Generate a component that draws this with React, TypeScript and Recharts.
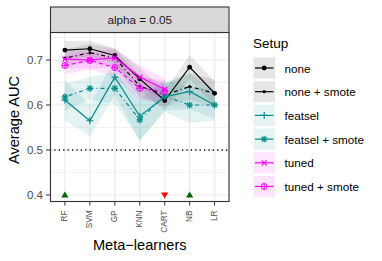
import React from 'react';
import { ComposedChart, Line, Area, Scatter, XAxis, YAxis, CartesianGrid, ReferenceLine } from 'recharts';

// meta-learners on the x axis
const categories = ['RF', 'SVM', 'GP', 'KNN', 'CART', 'NB', 'LR'];

// mean AUC per setup
const none = [0.722, 0.725, 0.71, 0.658, 0.61, 0.684, 0.626];
const noneSmote = [0.704, 0.716, 0.705, 0.642, 0.622, 0.641, 0.626];
const featsel = [0.611, 0.565, 0.662, 0.575, 0.618, 0.63, 0.6];
const featselSmote = [0.618, 0.637, 0.637, 0.567, 0.62, 0.6, 0.6];
const tuned = [0.702, 0.7, 0.705, 0.662, 0.635, null, null];
const tunedSmote = [0.688, 0.699, 0.683, 0.637, 0.63, null, null];

// half-widths of the shaded bands
const noneErr = [0.02, 0.018, 0.016, 0.025, 0.022, 0.027, 0.027];
const noneSmoteErr = [0.02, 0.02, 0.02, 0.025, 0.025, 0.03, 0.03];
const featselErr = [0.045, 0.035, 0.04, 0.055, 0.03, 0.04, 0.03];
const featselSmoteErr = [0.03, 0.025, 0.035, 0.045, 0.035, 0.04, 0.035];
const tunedErr = [0.02, 0.02, 0.02, 0.025, 0.025, null, null];
const tunedSmoteErr = [0.02, 0.02, 0.02, 0.025, 0.025, null, null];

// significance markers drawn at the bottom
const sigUp = ['RF', 'NB'];
const sigDown = ['CART'];
const sigLevel = 0.4;

const yTicks = [0.4, 0.5, 0.6, 0.7];
const yMinor = [0.45, 0.55, 0.65, 0.75];

const BLACK = '#000000';
const TEAL = '#008B8B';
const MAGENTA = '#FF00FF';
const FONT = '"Liberation Sans", Arial, Helvetica, sans-serif';

const band = (m: (number | null)[], e: (number | null)[], i: number) =>
  m[i] == null || e[i] == null ? null : [(m[i] as number) - (e[i] as number), (m[i] as number) + (e[i] as number)];

const data = categories.map((cat, i) => ({
  cat,
  none: none[i],
  noneSmote: noneSmote[i],
  featsel: featsel[i],
  featselSmote: featselSmote[i],
  tuned: tuned[i],
  tunedSmote: tunedSmote[i],
  noneBand: band(none, noneErr, i),
  noneSmoteBand: band(noneSmote, noneSmoteErr, i),
  featselBand: band(featsel, featselErr, i),
  featselSmoteBand: band(featselSmote, featselSmoteErr, i),
  tunedBand: band(tuned, tunedErr, i),
  tunedSmoteBand: band(tunedSmote, tunedSmoteErr, i),
  up: sigUp.includes(cat) ? sigLevel : null,
  down: sigDown.includes(cat) ? sigLevel : null,
}));

type Shape = 'circle' | 'dot' | 'plus' | 'star' | 'cross' | 'circleplus';

const Marker = ({ cx, cy, shape, color }: { cx: number; cy: number; shape: Shape; color: string }) => {
  const sw = 1.2;
  if (shape === 'circle') return <circle cx={cx} cy={cy} r={2.4} fill={color} />;
  if (shape === 'dot') return <circle cx={cx} cy={cy} r={1.6} fill={color} />;
  if (shape === 'plus')
    return (
      <g stroke={color} strokeWidth={sw}>
        <line x1={cx - 3.4} y1={cy} x2={cx + 3.4} y2={cy} />
        <line x1={cx} y1={cy - 3.4} x2={cx} y2={cy + 3.4} />
      </g>
    );
  if (shape === 'cross')
    return (
      <g stroke={color} strokeWidth={sw}>
        <line x1={cx - 2.5} y1={cy - 2.5} x2={cx + 2.5} y2={cy + 2.5} />
        <line x1={cx - 2.5} y1={cy + 2.5} x2={cx + 2.5} y2={cy - 2.5} />
      </g>
    );
  if (shape === 'star')
    return (
      <g stroke={color} strokeWidth={sw}>
        <line x1={cx - 3.3} y1={cy} x2={cx + 3.3} y2={cy} />
        <line x1={cx} y1={cy - 3.3} x2={cx} y2={cy + 3.3} />
        <line x1={cx - 2.4} y1={cy - 2.4} x2={cx + 2.4} y2={cy + 2.4} />
        <line x1={cx - 2.4} y1={cy + 2.4} x2={cx + 2.4} y2={cy - 2.4} />
      </g>
    );
  return (
    <g stroke={color} strokeWidth={1} fill="none">
      <circle cx={cx} cy={cy} r={3} />
      <line x1={cx - 3} y1={cy} x2={cx + 3} y2={cy} />
      <line x1={cx} y1={cy - 3} x2={cx} y2={cy + 3} />
    </g>
  );
};

const dotFor = (shape: Shape, color: string) => (p: any) => {
  if (p.cy == null || p.value == null || isNaN(p.cy)) return <g key={p.index} />;
  return <Marker key={p.index} cx={p.cx} cy={p.cy} shape={shape} color={color} />;
};

const Triangle = (color: string, upward: boolean) => (p: any) => {
  if (p.cy == null || isNaN(p.cy) || p.payload?.[upward ? 'up' : 'down'] == null) return <g />;
  const { cx, cy } = p;
  const pts = upward
    ? `${cx - 3.6},${cy + 2.6} ${cx + 3.6},${cy + 2.6} ${cx},${cy - 3.4}`
    : `${cx - 3.6},${cy - 2.6} ${cx + 3.6},${cy - 2.6} ${cx},${cy + 3.4}`;
  return <polygon points={pts} fill={color} />;
};

const XTick = (p: any) => (
  <text
    x={p.x}
    y={p.y}
    transform={`rotate(-90 ${p.x} ${p.y})`}
    textAnchor="end"
    dominantBaseline="central"
    fontSize={8.2}
    fill="#4d4d4d"
    fontFamily={FONT}
  >
    {p.payload.value}
  </text>
);

const series = [
  { key: 'none', label: 'none', color: BLACK, shape: 'circle' as Shape, dash: undefined, bandFill: '#e6e6e6' },
  { key: 'noneSmote', label: 'none + smote', color: BLACK, shape: 'dot' as Shape, dash: '1 3 4 3', bandFill: '#e6e6e6' },
  { key: 'featsel', label: 'featsel', color: TEAL, shape: 'plus' as Shape, dash: undefined, bandFill: '#e6f3f3' },
  { key: 'featselSmote', label: 'featsel + smote', color: TEAL, shape: 'star' as Shape, dash: '1 3 4 3', bandFill: '#e6f3f3' },
  { key: 'tuned', label: 'tuned', color: MAGENTA, shape: 'cross' as Shape, dash: undefined, bandFill: '#ffe4ff' },
  { key: 'tunedSmote', label: 'tuned + smote', color: MAGENTA, shape: 'circleplus' as Shape, dash: '4 3', bandFill: '#ffe4ff' },
];

const PLOT_L = 50;
const PLOT_R = 229.5;
const PLOT_T = 32;
const PLOT_B = 202;

export default function App() {
  return (
    <div style={{ position: 'relative', width: 382, height: 261, background: '#fff', fontFamily: FONT }}>
      <style>{`body{margin:0}`}</style>
      <ComposedChart
        width={382}
        height={261}
        data={data}
        margin={{ top: PLOT_T, right: 382 - PLOT_R, bottom: 0, left: 0 }}
      >
        <CartesianGrid horizontalValues={yMinor} vertical={false} stroke="#ebebeb" strokeWidth={0.6} />
        <CartesianGrid horizontalValues={yTicks} stroke="#ebebeb" strokeWidth={1.2} />
        <XAxis
          dataKey="cat"
          type="category"
          scale="point"
          padding={{ left: 14.9, right: 14.9 }}
          interval={0}
          height={261 - PLOT_B}
          axisLine={false}
          tickLine={{ stroke: '#333333' }}
          tickSize={3.5}
          tickMargin={5}
          tick={<XTick />}
        />
        <YAxis
          type="number"
          domain={[0.3844, 0.7622]}
          allowDataOverflow
          ticks={yTicks}
          tickFormatter={(v: number) => v.toFixed(1)}
          width={PLOT_L}
          axisLine={false}
          tickLine={{ stroke: '#333333' }}
          tickSize={4}
          tickMargin={3}
          tick={{ fill: '#4d4d4d', fontSize: 11.5, fontFamily: FONT }}
        />
        {series.map((s) => (
          <Area
            key={s.key + '-band'}
            type="linear"
            dataKey={s.key + 'Band'}
            stroke="none"
            fill={s.color}
            fillOpacity={s.color === BLACK ? 0.09 : 0.11}
            isAnimationActive={false}
            connectNulls={false}
            activeDot={false}
          />
        ))}
        <ReferenceLine y={0.5} stroke="#000" strokeWidth={1.3} strokeDasharray="1.2 3.2" />
        {series.map((s) => (
          <Line
            key={s.key}
            type="linear"
            dataKey={s.key}
            stroke={s.color}
            strokeWidth={1.2}
            strokeDasharray={s.dash}
            dot={dotFor(s.shape, s.color)}
            activeDot={false}
            connectNulls={false}
            isAnimationActive={false}
          />
        ))}
        <Scatter dataKey="up" shape={Triangle('#006400', true)} isAnimationActive={false} />
        <Scatter dataKey="down" shape={Triangle('#FF0000', false)} isAnimationActive={false} />
      </ComposedChart>

      <svg
        width={382}
        height={261}
        style={{ position: 'absolute', left: 0, top: 0, pointerEvents: 'none' }}
        fontFamily={FONT}
      >
        {/* panel border */}
        <rect x={PLOT_L + 0.5} y={PLOT_T + 0.5} width={PLOT_R - PLOT_L - 1} height={PLOT_B - PLOT_T - 1} fill="none" stroke="#333333" strokeWidth={1.1} />
        {/* facet strip */}
        <rect x={PLOT_L + 0.5} y={7} width={PLOT_R - PLOT_L - 1} height={PLOT_T - 7 + 0.5} fill="#d9d9d9" stroke="#333333" strokeWidth={1.1} />
        <text x={(PLOT_L + PLOT_R) / 2} y={19.8} textAnchor="middle" dominantBaseline="central" fontSize={11.7} fill="#1a1a1a">
          alpha = 0.05
        </text>
        {/* axis titles */}
        <text x={14} y={120} transform="rotate(-90 14 120)" textAnchor="middle" dominantBaseline="central" fontSize={14.6} fill="#000">
          Average AUC
        </text>
        <text x={(PLOT_L + PLOT_R) / 2} y={249.5} textAnchor="middle" fontSize={14.6} fill="#000">
          Meta−learners
        </text>
        {/* legend */}
        <text x={253} y={47.5} fontSize={13.5} fill="#000">
          Setup
        </text>
        {series.map((s, i) => {
          const top = 57.5 + i * 23.7;
          const cy = top + 10.5;
          return (
            <g key={s.key + '-legend'}>
              <rect x={253.5} y={top} width={21.5} height={21} fill={s.bandFill} />
              <line x1={255} y1={cy} x2={273.5} y2={cy} stroke={s.color} strokeWidth={1.2} />
              <Marker cx={264.2} cy={cy} shape={s.shape} color={s.color} />
              <text x={284.5} y={cy} dominantBaseline="central" fontSize={11.7} fill="#000">
                {s.label}
              </text>
            </g>
          );
        })}
      </svg>
    </div>
  );
}
